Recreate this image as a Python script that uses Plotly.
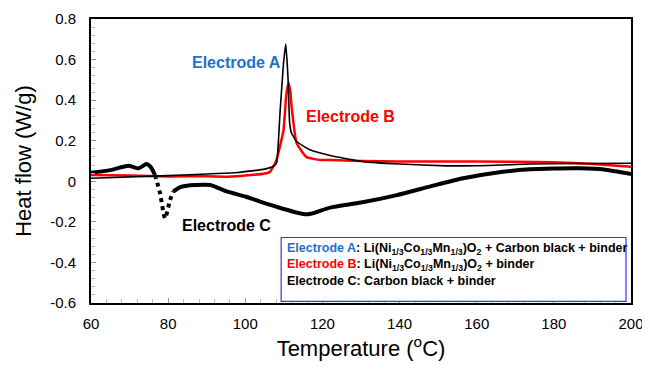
import plotly.graph_objects as go

# Electrode A (thin black)
a_temp = [60, 80, 98, 105, 107.3, 108.1, 109, 109.9, 110.5, 111.1, 111.5, 112, 113.3, 116.8, 122, 130.6, 140, 152.2, 163, 173.8, 186, 200]
a_flow = [0.015, 0.028, 0.043, 0.06, 0.074, 0.089, 0.336, 0.58, 0.677, 0.5, 0.287, 0.237, 0.196, 0.155, 0.127, 0.097, 0.085, 0.076, 0.078, 0.085, 0.088, 0.089]

# Electrode B (red)
b_temp = [60, 70, 80, 90, 96, 100, 105.5, 106.4, 108, 109.9, 110.6, 111.2, 111.7, 112, 113.3, 115.9, 119.4, 122, 130, 140, 160, 180, 190, 200]
b_flow = [0.031, 0.028, 0.024, 0.025, 0.023, 0.028, 0.04, 0.047, 0.1, 0.25, 0.42, 0.484, 0.44, 0.37, 0.188, 0.119, 0.105, 0.105, 0.1, 0.098, 0.097, 0.094, 0.085, 0.072]

# Electrode C (thick black), solid start, dotted dip, solid remainder
c1_temp = [60, 65, 69.7, 72.3, 74.4, 75.5, 76.6]
c1_flow = [0.042, 0.055, 0.077, 0.064, 0.085, 0.07, 0.031]
c2_temp = [76.6, 77.9, 79.2, 80.5, 81.3]
c2_flow = [0.031, -0.059, -0.183, -0.092, -0.051]
c3_temp = [81.3, 83, 84.8, 87, 90.9, 95.2, 100, 103.8, 108, 112.5, 115.9, 118, 122, 130, 139.3, 148, 156.5, 165, 173.8, 180, 186.8, 193, 200]
c3_flow = [-0.051, -0.03, -0.022, -0.018, -0.018, -0.05, -0.075, -0.1, -0.125, -0.15, -0.163, -0.155, -0.13, -0.105, -0.068, -0.025, 0.015, 0.042, 0.059, 0.063, 0.064, 0.058, 0.036]

x_ticks = [60, 80, 100, 120, 140, 160, 180, 200]
y_ticks = [-0.6, -0.4, -0.2, 0, 0.2, 0.4, 0.6, 0.8]
y_labels = ["-0.6", "-0.4", "-0.2", "0", "0.2", "0.4", "0.6", "0.8"]

FONT = "Arial, Liberation Sans, sans-serif"
BLUE = "#1f6fd0"

fig = go.Figure()
fig.add_trace(go.Scatter(x=c1_temp, y=c1_flow, mode="lines", line=dict(color="black", width=4, shape="spline", smoothing=0.6)))
fig.add_trace(go.Scatter(x=c2_temp, y=c2_flow, mode="lines", line=dict(color="black", width=4, dash="dot", shape="spline", smoothing=0.6)))
fig.add_trace(go.Scatter(x=c3_temp, y=c3_flow, mode="lines", line=dict(color="black", width=4, shape="spline", smoothing=0.6)))
fig.add_trace(go.Scatter(x=b_temp, y=b_flow, mode="lines", line=dict(color="#ff0000", width=2.5, shape="spline", smoothing=0.4)))
fig.add_trace(go.Scatter(x=a_temp, y=a_flow, mode="lines", line=dict(color="black", width=1.6, shape="spline", smoothing=0.4)))

# page body adds an 8px offset, margins compensate for it
fig.update_layout(
    width=650, height=371,
    margin=dict(l=83, r=27, t=11, b=76),
    paper_bgcolor="white", plot_bgcolor="white",
    showlegend=False,
    font=dict(family=FONT, color="black"),
)
fig.update_xaxes(
    range=[60, 200], tickvals=x_ticks, ticks="inside", ticklen=5, tickcolor="#999",
    minor=dict(dtick=4, ticks="inside", ticklen=4, tickcolor="#bbb"),
    showline=True, linecolor="black", linewidth=2, mirror=True, showgrid=False, zeroline=False,
    tickfont=dict(size=15, family=FONT), ticklabelstandoff=6, automargin=False,
    title=dict(text="Temperature (<sup>o</sup>C)", font=dict(size=22, family=FONT), standoff=10),
)
fig.update_yaxes(
    range=[-0.6, 0.8], tickvals=y_ticks, ticktext=y_labels, ticks="inside", ticklen=5, tickcolor="#999",
    minor=dict(dtick=0.04, ticks="inside", ticklen=4, tickcolor="#bbb"),
    showline=True, linecolor="black", linewidth=2, mirror=True, showgrid=False, zeroline=False,
    tickfont=dict(size=15, family=FONT), ticklabelstandoff=10, automargin=False,
    title=dict(text="Heat flow (W/g)", font=dict(size=22, family=FONT), standoff=12),
)

fig.add_annotation(text="<b>Electrode A</b>", x=97.7, y=0.585, xref="x", yref="y", showarrow=False,
                   font=dict(size=16, color=BLUE, family=FONT))
fig.add_annotation(text="<b>Electrode B</b>", x=127.3, y=0.317, xref="x", yref="y", showarrow=False,
                   font=dict(size=16, color="#ff0000", family=FONT))
fig.add_annotation(text="<b>Electrode C</b>", x=95, y=-0.22, xref="x", yref="y", showarrow=False,
                   font=dict(size=16, color="black", family=FONT))

fig.add_shape(type="rect", xref="x", yref="y", x0=109.3, x1=198.7, y0=-0.592, y1=-0.277,
              line=dict(color="#3333ff", width=1.2), fillcolor="white", layer="above")

legend_text = (
    f"<b><span style='color:{BLUE}'>Electrode A</span>: Li(Ni<sub>1/3</sub>Co<sub>1/3</sub>Mn<sub>1/3</sub>)O<sub>2</sub> + Carbon black + binder</b><br>"
    "<b><span style='color:#ff0000'>Electrode B</span>: Li(Ni<sub>1/3</sub>Co<sub>1/3</sub>Mn<sub>1/3</sub>)O<sub>2</sub> + binder</b><br>"
    "<b>Electrode C: Carbon black + binder</b>"
)
fig.add_annotation(text=legend_text, x=110.3, y=-0.283, xref="x", yref="y", xanchor="left", yanchor="top",
                   align="left", showarrow=False, font=dict(size=12.5, color="black", family=FONT))

fig.write_html("out.html")
